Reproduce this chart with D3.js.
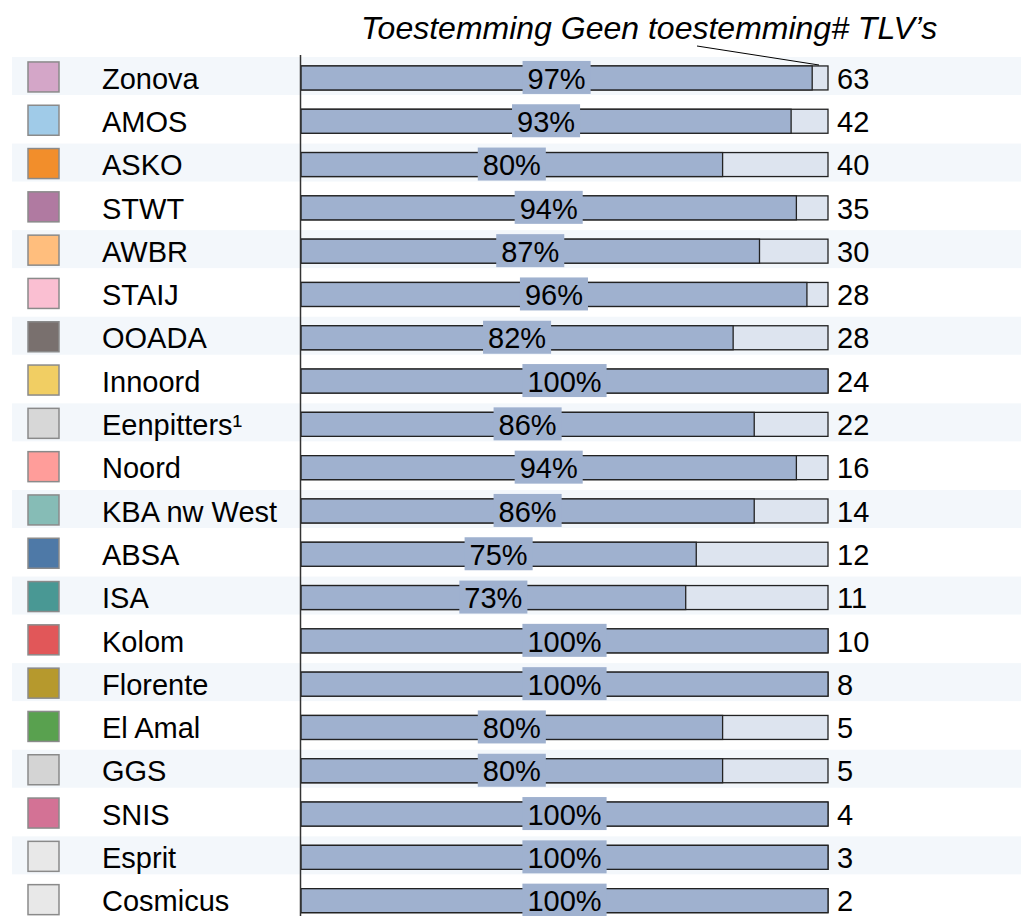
<!DOCTYPE html>
<html><head><meta charset="utf-8">
<script src="https://cdn.jsdelivr.net/npm/d3@7"></script>
<style>body{margin:0;background:#fff}svg{display:block;font-family:"Liberation Sans",Arial,sans-serif}</style>
</head><body><svg id="c" width="1025" height="916"></svg>
<script>
const categories = ["Zonova","AMOS","ASKO","STWT","AWBR","STAIJ","OOADA","Innoord","Eenpitters¹","Noord","KBA nw West","ABSA","ISA","Kolom","Florente","El Amal","GGS","SNIS","Esprit","Cosmicus"];
const consentPct = [97,93,80,94,87,96,82,100,86,94,86,75,73,100,100,80,80,100,100,100];
const tlvCounts = [63,42,40,35,30,28,28,24,22,16,14,12,11,10,8,5,5,4,3,2];
const swatchColors = ["#d4a6c8","#a0cbe8","#f28e2b","#b07aa1","#ffbe7d","#fabfd2","#79706e","#f1ce63","#d7d7d7","#ff9d9a","#86bcb6","#4e79a7","#499894","#e15759","#b6992d","#59a14f","#d4d4d4","#d37295","#e8e8e8","#e8e8e8"];
const headerLabels = ["Toestemming","Geen toestemming","# TLV’s"];

const svg = d3.select("#c");
const y = d3.scaleBand().domain(categories).range([56.3, 56.3 + 43.3*categories.length]).padding(0);
const x = d3.scaleLinear().domain([0,100]).range([301, 828]);
const bw = y.bandwidth();
const cy = d => y(d) + bw/2;
const FS = 29;

// alternating bands
svg.append("g").selectAll("rect").data(categories.filter((d,i)=>i%2===0)).join("rect")
  .attr("x",12).attr("width",1009).attr("y",d=>cy(d)-21).attr("height",38)
  .attr("fill","#f3f7fb");

// swatches
svg.append("g").selectAll("rect").data(categories).join("rect")
  .attr("x",28).attr("y",(d)=>cy(d)-16).attr("width",31).attr("height",30)
  .attr("fill",(d,i)=>swatchColors[i]).attr("stroke","#8a8a8a").attr("stroke-width",1.5);

// names
svg.append("g").selectAll("text").data(categories).join("text")
  .attr("x",102).attr("y",d=>cy(d)).attr("dy","0.37em")
  .attr("font-size",FS).attr("fill","#000").text(d=>d);

// bars: full (light) then consent
const bars = svg.append("g");
bars.selectAll("rect.bg").data(categories).join("rect").attr("class","bg")
  .attr("x",x(0)).attr("width",x(100)-x(0)).attr("y",d=>cy(d)-12).attr("height",24)
  .attr("fill","#dde4ef").attr("stroke","#222").attr("stroke-width",1.3);
bars.selectAll("rect.fg").data(categories).join("rect").attr("class","fg")
  .attr("x",x(0)).attr("width",(d,i)=>x(consentPct[i])-x(0)).attr("y",d=>cy(d)-12).attr("height",24)
  .attr("fill","#9fb1cf").attr("stroke","#222").attr("stroke-width",1.3);

// axis line
svg.append("line").attr("x1",300.5).attr("x2",300.5).attr("y1",55).attr("y2",916)
  .attr("stroke","#333").attr("stroke-width",1.5);

// percent labels with bg
const lab = svg.append("g").selectAll("g").data(categories).join("g")
  .attr("transform",(d,i)=>`translate(${(x(0)+x(consentPct[i]))/2},${cy(d)})`);
lab.append("text").attr("text-anchor","middle").attr("dy","0.37em").attr("font-size",FS)
  .text((d,i)=>consentPct[i]+"%");
lab.each(function(){
  const g = d3.select(this); const t = g.select("text"); const b = t.node().getBBox();
  g.insert("rect","text").attr("x",b.x-5).attr("width",b.width+10).attr("y",-17).attr("height",33).attr("fill","#9fb1cf");
});

// counts
svg.append("g").selectAll("text").data(categories).join("text")
  .attr("x",837).attr("y",d=>cy(d)).attr("dy","0.37em").attr("font-size",FS)
  .text((d,i)=>tlvCounts[i]);

// header
const head = svg.append("text").attr("x",361).attr("y",39).attr("font-size",32).attr("font-style","italic");
head.text(headerLabels[0]+" "+headerLabels[1]+headerLabels[2]);
svg.append("line").attr("x1",697).attr("y1",46).attr("x2",819).attr("y2",65).attr("stroke","#000").attr("stroke-width",1);
</script></body></html>
